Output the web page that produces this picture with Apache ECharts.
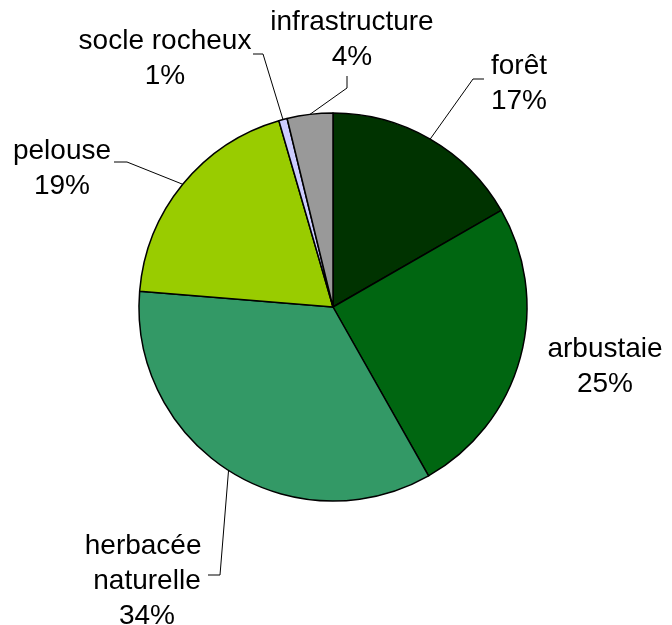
<!DOCTYPE html>
<html>
<head>
<meta charset="utf-8">
<script src="https://cdn.jsdelivr.net/npm/echarts@6/dist/echarts.min.js"></script>
<style>html,body{margin:0;padding:0;background:#fff}#c{width:672px;height:625px}</style>
</head>
<body>
<div id="c"></div>
<script>
const categories = ['forêt', 'arbustaie', 'herbacée naturelle', 'pelouse', 'socle rocheux', 'infrastructure'];
const values = [16.7, 25.1, 34.5, 19.2, 0.7, 3.8];
const colors = ['#003300', '#006611', '#339966', '#99CC00', '#CCCCFF', '#999999'];

// label anchor positions (layout only)
const labelPos = [[519, 84], [605, 367], [147, 581], [62, 169], [165, 59], [352, 40]];
// leader-line bend / end offsets relative to the label anchor (layout only)
const lineBend = [[-46, -5], null, [73, -6], [65, -7], [98, -5], [-5, 48]];
const lineEnd  = [[-35, -5], null, [61, -6], [52, -7], [88, -5], [-5, 36]];

const chart = echarts.init(document.getElementById('c'));
chart.setOption({
  animation: false,
  series: [{
    type: 'pie',
    center: [333, 307],
    radius: 194,
    startAngle: 90,
    clockwise: true,
    percentPrecision: 0,
    avoidLabelOverlap: false,
    data: categories.map((n, i) => ({
      name: n,
      value: values[i],
      itemStyle: { color: colors[i] },
      label: n === 'herbacée naturelle' ? { width: 140, overflow: 'break' } : {},
      labelLine: lineBend[i] ? {} : { show: false }
    })),
    itemStyle: { borderColor: '#000', borderWidth: 1.5 },
    label: {
      show: true,
      position: 'outside',
      formatter: '{b}\n{d}%',
      fontFamily: 'Liberation Sans, Arial, sans-serif',
      fontSize: 28,
      lineHeight: 35,
      color: '#000',
      align: 'center'
    },
    labelLine: {
      show: true,
      length: 15,
      length2: 12,
      lineStyle: { color: '#000', width: 1 }
    },
    labelLayout: function (p) {
      const i = p.dataIndex;
      const pos = labelPos[i];
      const out = { x: pos[0], y: pos[1], align: 'center', verticalAlign: 'middle' };
      if (lineBend[i] && p.labelLinePoints) {
        const start = p.labelLinePoints[0];
        out.labelLinePoints = [
          [start[0], start[1]],
          [pos[0] + lineBend[i][0], pos[1] + lineBend[i][1]],
          [pos[0] + lineEnd[i][0], pos[1] + lineEnd[i][1]]
        ];
      }
      return out;
    },
    emphasis: { disabled: true }
  }]
});
</script>
</body>
</html>
